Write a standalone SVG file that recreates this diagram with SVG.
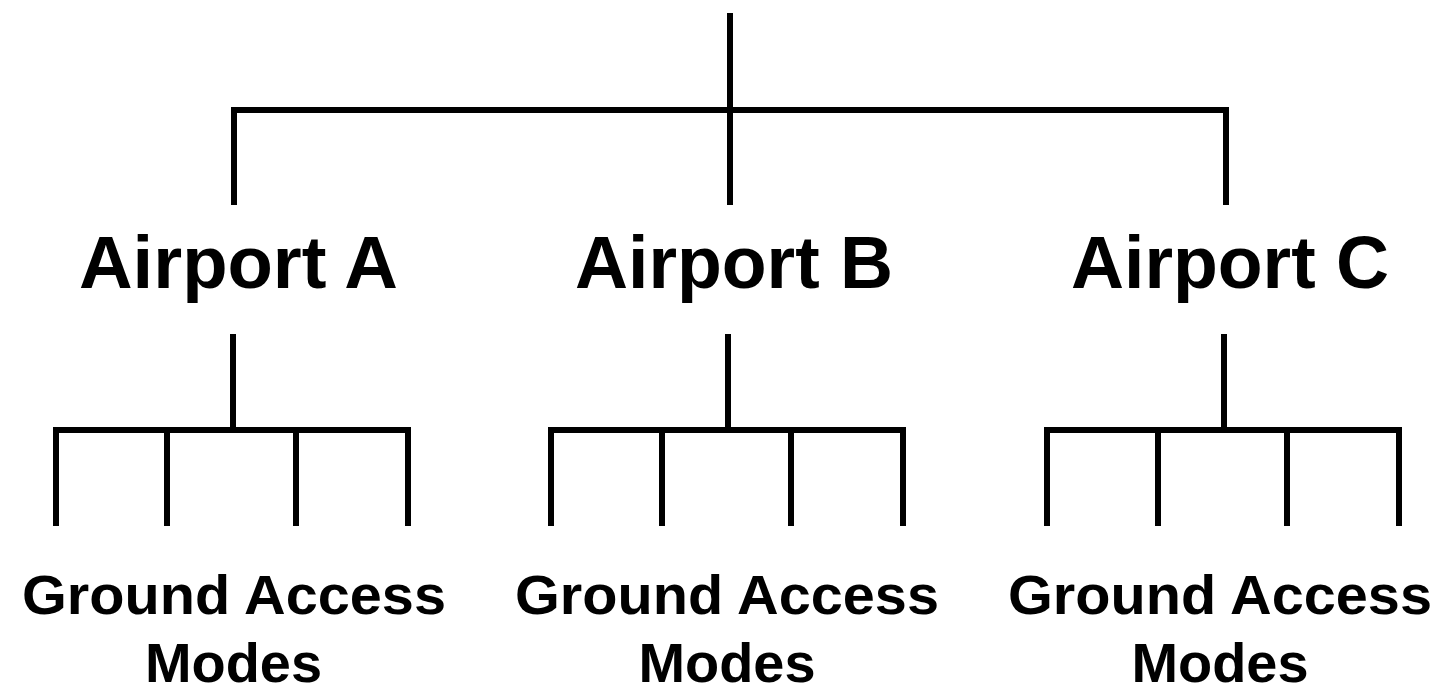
<svg xmlns="http://www.w3.org/2000/svg" width="1444" height="686" viewBox="0 0 1444 686">
<style>
.ln{stroke:#000;stroke-width:6;fill:none;stroke-linecap:butt;stroke-linejoin:miter}
.ap{font-family:"Liberation Sans",Arial,sans-serif;font-weight:bold;font-size:74px;text-anchor:middle;fill:#000}
.gm{font-family:"Liberation Sans",Arial,sans-serif;font-weight:bold;font-size:55px;text-anchor:middle;fill:#000}
</style>
<rect width="1444" height="686" fill="#fff"/>
<g id="connectors">
<path class="ln" d="M730,13 V205 M234,205 V110 H1226 V205"/>
<path class="ln" d="M233,334 V430 M56,526 V430 H408 V526 M167,430 V526 M296,430 V526"/>
<path class="ln" d="M728,334 V430 M551,526 V430 H903 V526 M662,430 V526 M791,430 V526"/>
<path class="ln" d="M1224,334 V430 M1047,526 V430 H1399 V526 M1158,430 V526 M1287,430 V526"/>
</g>
<g id="airportA"><text class="ap" x="238.5" y="287.5" textLength="319" lengthAdjust="spacingAndGlyphs">Airport A</text></g>
<g id="airportB"><text class="ap" x="734" y="287.5" textLength="318" lengthAdjust="spacingAndGlyphs">Airport B</text></g>
<g id="airportC"><text class="ap" x="1230" y="287.5" textLength="318" lengthAdjust="spacingAndGlyphs">Airport C</text></g>
<g id="modesA"><text class="gm" x="234" y="614" textLength="424" lengthAdjust="spacingAndGlyphs">Ground Access</text><text class="gm" x="233.5" y="682" textLength="177" lengthAdjust="spacingAndGlyphs">Modes</text></g>
<g id="modesB"><text class="gm" x="727" y="614" textLength="424" lengthAdjust="spacingAndGlyphs">Ground Access</text><text class="gm" x="727" y="682" textLength="177" lengthAdjust="spacingAndGlyphs">Modes</text></g>
<g id="modesC"><text class="gm" x="1220" y="614" textLength="424" lengthAdjust="spacingAndGlyphs">Ground Access</text><text class="gm" x="1220" y="682" textLength="177" lengthAdjust="spacingAndGlyphs">Modes</text></g>
</svg>
